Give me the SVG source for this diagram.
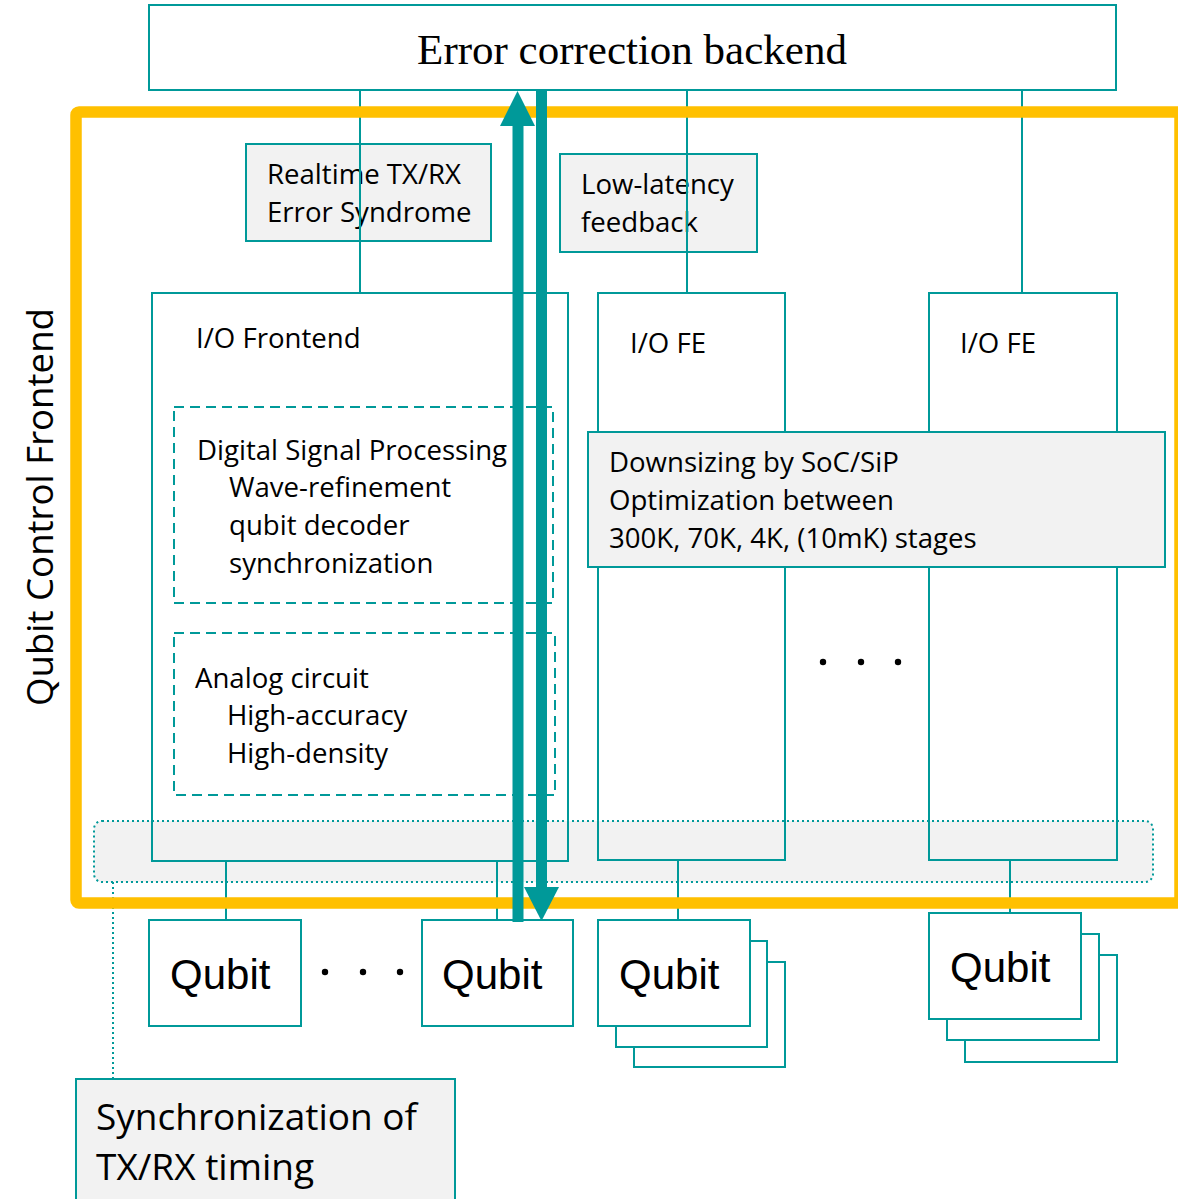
<svg xmlns="http://www.w3.org/2000/svg" width="1178" height="1199" viewBox="0 0 1178 1199">
<style>
.box{fill:none;stroke:#009999;stroke-width:2}
.wbox{fill:#FFFFFF;stroke:#009999;stroke-width:2}
.gbox{fill:#F2F2F2;stroke:#009999;stroke-width:2}
.dash{fill:none;stroke:#009999;stroke-width:2;stroke-dasharray:10 6}
.dot{stroke:#009999;stroke-width:2;stroke-dasharray:2 3}
.ln{stroke:#009999;stroke-width:2;fill:none}
.t{font-family:"Open Sans","Noto Sans","DejaVu Sans",sans-serif;font-size:27.6px;fill:#000}
.big{font-size:37px}
.q{font-family:"Liberation Sans",Arial,sans-serif;font-size:42px;fill:#000}
.arrow{fill:#009999}
</style>
<rect width="1178" height="1199" fill="#FFFFFF"/>

<g id="sync-band">
<rect x="94" y="821" width="1059" height="61" rx="8" ry="8" fill="#F2F2F2" class="dot"/>
</g>

<g id="connectors">
<line class="ln" x1="360" y1="90" x2="360" y2="293"/>
<line class="ln" x1="687" y1="90" x2="687" y2="293"/>
<line class="ln" x1="1022" y1="90" x2="1022" y2="293"/>
<line class="ln" x1="226" y1="861" x2="226" y2="920"/>
<line class="ln" x1="497" y1="861" x2="497" y2="920"/>
<line class="ln" x1="678" y1="860" x2="678" y2="920"/>
<line class="ln" x1="1010" y1="860" x2="1010" y2="913"/>
<line class="dot" x1="113" y1="882" x2="113" y2="1079" fill="none"/>
</g>

<g id="backend">
<rect class="wbox" x="149" y="5" width="967" height="85"/>
<text x="632" y="64" text-anchor="middle" font-family="'Liberation Serif','Times New Roman',serif" font-size="43">Error correction backend</text>
</g>

<g id="realtime-label">
<rect class="gbox" x="246" y="144" width="245" height="97"/>
<text class="t" x="267" y="184">Realtime TX/RX</text>
<text class="t" x="267" y="222">Error Syndrome</text>
</g>

<g id="feedback-label">
<rect class="gbox" x="560" y="154" width="197" height="98"/>
<text class="t" x="581" y="194">Low-latency</text>
<text class="t" x="581" y="232">feedback</text>
</g>
<line class="ln" x1="360" y1="144" x2="360" y2="241"/>
<line class="ln" x1="687" y1="154" x2="687" y2="252"/>

<g id="io-frontend">
<rect class="box" x="152" y="293" width="416" height="568"/>
<text class="t" x="196" y="348">I/O Frontend</text>
</g>

<g id="dsp">
<rect class="dash" x="174" y="407" width="379" height="196"/>
<text class="t" x="197" y="460">Digital Signal Processing</text>
<text class="t" x="229" y="497">Wave-refinement</text>
<text class="t" x="229" y="535">qubit decoder</text>
<text class="t" x="229" y="573">synchronization</text>
</g>

<g id="analog">
<rect class="dash" x="174" y="633" width="381" height="162"/>
<text class="t" x="195" y="688">Analog circuit</text>
<text class="t" x="227" y="725">High-accuracy</text>
<text class="t" x="227" y="763">High-density</text>
</g>

<g id="io-fe-2">
<rect class="box" x="598" y="293" width="187" height="567"/>
<text class="t" x="630" y="353">I/O FE</text>
</g>

<g id="io-fe-3">
<rect class="box" x="929" y="293" width="188" height="567"/>
<text class="t" x="960" y="353">I/O FE</text>
</g>

<g id="downsizing">
<rect class="gbox" x="588" y="432" width="577" height="135"/>
<text class="t" x="609" y="472">Downsizing by SoC/SiP</text>
<text class="t" x="609" y="510">Optimization between</text>
<text class="t" x="609" y="548">300K, 70K, 4K, (10mK) stages</text>
</g>

<g id="fe-dots" fill="#000">
<circle cx="823" cy="662" r="3.2"/>
<circle cx="861" cy="662" r="3.2"/>
<circle cx="898" cy="662" r="3.2"/>
</g>

<g id="qubit-1">
<rect class="wbox" x="149" y="920" width="152" height="106"/>
<text class="q" x="170" y="989">Qubit</text>
</g>

<g id="qubit-dots" fill="#000">
<circle cx="325" cy="972" r="3.2"/>
<circle cx="363" cy="972" r="3.2"/>
<circle cx="400" cy="972" r="3.2"/>
</g>

<g id="qubit-2">
<rect class="wbox" x="422" y="920" width="151" height="106"/>
<text class="q" x="442" y="989">Qubit</text>
</g>

<g id="qubit-3">
<rect class="wbox" x="634" y="962" width="151" height="105"/>
<rect class="wbox" x="616" y="941" width="151" height="106"/>
<rect class="wbox" x="598" y="920" width="152" height="106"/>
<text class="q" x="619" y="989">Qubit</text>
</g>

<g id="qubit-4">
<rect class="wbox" x="965" y="955" width="152" height="107"/>
<rect class="wbox" x="947" y="934" width="152" height="106"/>
<rect class="wbox" x="929" y="913" width="152" height="106"/>
<text class="q" x="950" y="982">Qubit</text>
</g>

<g id="sync-note">
<rect class="gbox" x="76" y="1079" width="379" height="140"/>
<text class="t big" x="96" y="1130">Synchronization of</text>
<text class="t big" x="96" y="1180">TX/RX timing</text>
</g>

<g id="qubit-control-frontend">
<rect x="76" y="112" width="1104" height="791" rx="3" ry="3" fill="none" stroke="#FFC000" stroke-width="11.5" stroke-linejoin="round"/>
<text class="t" style="font-size:36.6px" x="53" y="507" text-anchor="middle" transform="rotate(-90 53 507)">Qubit Control Frontend</text>
</g>

<g id="data-arrows">
<rect class="arrow" x="512.5" y="124" width="11" height="798"/>
<polygon class="arrow" points="500,126 535,126 517.5,91"/>
<rect class="arrow" x="536" y="90" width="11" height="799"/>
<polygon class="arrow" points="524,887 559,887 541.5,921"/>
</g>
</svg>
